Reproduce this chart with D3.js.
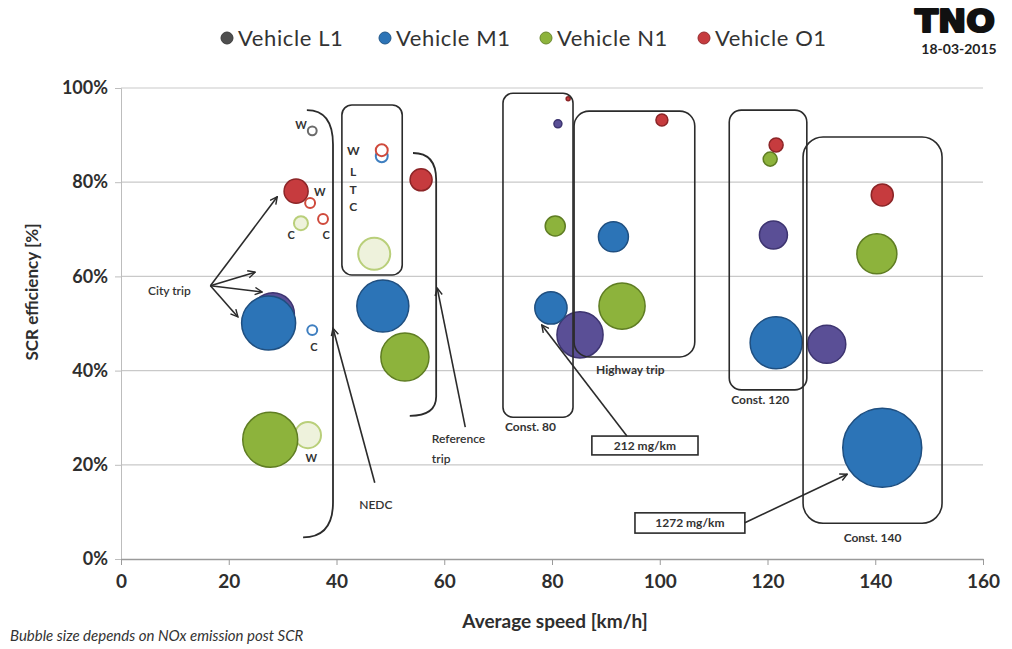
<!DOCTYPE html>
<html>
<head>
<meta charset="utf-8">
<script src="https://cdn.jsdelivr.net/npm/d3@7"></script>
<style>
  html, body { margin: 0; padding: 0; background: #ffffff; }
  svg { display: block; font-family: Lato, "Open Sans", sans-serif; }
</style>
</head>
<body>
<svg id="chart" width="1012" height="649"></svg>
<script>
// ---------------- DATA ----------------
const vehicles = ["Vehicle L1", "Vehicle M1", "Vehicle N1", "Vehicle O1"];

// trip / test type of every point ("Lab ..." and "WLTC" = open marker, others = PEMS trips)
const tripL1 = ["City", "Lab W", "Const 80", "Highway", "Const 120", "Const 140"];
const speedL1 = [28.2, 35.5, 81.1, 85.2, 121.1, 131.0];
const effL1 = [52.0, 90.9, 92.4, 47.6, 68.8, 45.6];
const noxL1 = [375, 16, 13, 434, 160, 295];

const tripM1 = ["City", "Lab C", "WLTC", "NEDC", "Const 80", "Highway", "Const 120", "Const 140"];
const speedM1 = [27.4, 35.5, 48.4, 48.6, 79.8, 91.4, 121.6, 141.3];
const effM1 = [50.1, 48.6, 85.5, 53.7, 53.3, 68.4, 45.9, 23.6];
const noxM1 = [594, 20, 29, 551, 212, 183, 551, 1272];

const tripN1 = ["City", "Lab W", "Lab C", "WLTC", "NEDC", "Const 80", "Highway", "Const 120", "Const 140"];
const speedN1 = [27.7, 34.7, 33.4, 47.0, 52.7, 80.6, 93.0, 120.5, 140.3];
const effN1 = [25.3, 26.3, 71.3, 64.8, 42.9, 70.7, 53.7, 84.9, 64.8];
const noxN1 = [616, 139, 40, 209, 472, 82, 434, 40, 326];

const tripO1 = ["City", "Lab W", "Lab C", "WLTC", "Reference", "Const 80", "Highway", "Const 120", "Const 140"];
const speedO1 = [32.5, 35.1, 37.5, 48.4, 55.7, 83.0, 100.4, 121.6, 141.3];
const effO1 = [78.1, 75.6, 72.2, 86.8, 80.5, 97.7, 93.2, 87.9, 77.3];
const noxO1 = [118, 20, 20, 29, 99, 3, 29, 40, 99];

const labTrips = ["Lab W", "Lab C", "WLTC"];

const xTicks = [0, 20, 40, 60, 80, 100, 120, 140, 160];
const yTicks = [0, 20, 40, 60, 80, 100];

// annotation boxes (data units: speed, efficiency %)
const boxNames = ["WLTC", "Const. 80", "Highway trip", "Const. 120", "Const. 140"];
const boxX0 = [41.0, 70.9, 84.1, 112.9, 126.6];
const boxX1 = [52.2, 83.9, 106.5, 127.3, 152.4];
const boxY0 = [60.3, 30.1, 42.9, 35.9, 7.6];
const boxY1 = [96.4, 98.9, 95.1, 95.3, 89.6];

// ---------------- SETUP ----------------
const svg = d3.select("#chart");
const x = d3.scaleLinear().domain([0, 160]).range([121, 983]);
const y = d3.scaleLinear().domain([0, 100]).range([559, 88]);
const r = d3.scaleSqrt().domain([0, 1272]).range([0, 39.5]);

const fillC = {"Vehicle L1": "#5a4f96", "Vehicle M1": "#2c74b7", "Vehicle N1": "#8db33c", "Vehicle O1": "#c63b3e"};
const strokeC = {"Vehicle L1": "#3d3470", "Vehicle M1": "#1f4f80", "Vehicle N1": "#5f7d23", "Vehicle O1": "#8c2527"};
const legendC = {"Vehicle L1": "#4f4f4f", "Vehicle M1": "#2c74b7", "Vehicle N1": "#8db33c", "Vehicle O1": "#c63b3e"};
const labFill = {"Vehicle L1": "#ffffff", "Vehicle M1": "#ffffff", "Vehicle N1": "#eef2dc", "Vehicle O1": "#ffffff"};
const labStroke = {"Vehicle L1": "#6b6b6b", "Vehicle M1": "#3f7fc0", "Vehicle N1": "#b9cf7a", "Vehicle O1": "#cf4a3c"};

const series = [
  {name: vehicles[0], trip: tripL1, s: speedL1, e: effL1, n: noxL1},
  {name: vehicles[1], trip: tripM1, s: speedM1, e: effM1, n: noxM1},
  {name: vehicles[2], trip: tripN1, s: speedN1, e: effN1, n: noxN1},
  {name: vehicles[3], trip: tripO1, s: speedO1, e: effO1, n: noxO1}
];
const points = [];
series.forEach(se => se.s.forEach((v, i) => points.push({
  v: se.name, trip: se.trip[i], speed: v, eff: se.e[i], nox: se.n[i],
  lab: labTrips.includes(se.trip[i])
})));

// ---------------- GRID & AXES ----------------
const g = svg.append("g");
g.selectAll("line.grid").data(yTicks.filter(t => t > 0)).join("line")
  .attr("x1", x(0)).attr("x2", x(160))
  .attr("y1", d => y(d)).attr("y2", d => y(d))
  .attr("stroke", "#c9c9c9").attr("stroke-width", 1.2);

const yAxis = g.append("g").attr("transform", `translate(${x(0)},0)`)
  .call(d3.axisLeft(y).tickValues(yTicks).tickSize(6).tickFormat(d => d + "%"));
yAxis.select(".domain").attr("stroke", "#bdbdbd");
yAxis.selectAll(".tick line").attr("stroke", "#bdbdbd");
yAxis.selectAll("text").attr("font-family", "Lato").attr("font-weight", 700)
  .attr("font-size", 18).attr("fill", "#2e2e2e").attr("x", -13);

const xAxis = g.append("g").attr("transform", `translate(0,${y(0)})`)
  .call(d3.axisBottom(x).tickValues(xTicks).tickSize(6).tickSizeOuter(0));
xAxis.select(".domain").attr("stroke", "#9a9a9a").attr("stroke-width", 1.5);
xAxis.selectAll(".tick line").attr("stroke", "#9a9a9a");
xAxis.selectAll("text").attr("font-family", "Lato").attr("font-weight", 700)
  .attr("font-size", 19).attr("fill", "#2e2e2e").attr("dy", "1.05em");

svg.append("text").attr("x", 555).attr("y", 628).attr("text-anchor", "middle")
  .attr("font-weight", 700).attr("font-size", 19).attr("fill", "#2e2e2e")
  .text("Average speed [km/h]");
svg.append("text").attr("transform", "translate(38,292) rotate(-90)")
  .attr("text-anchor", "middle").attr("font-weight", 700).attr("font-size", 17)
  .attr("fill", "#2e2e2e").text("SCR efficiency [%]");
svg.append("text").attr("x", 10).attr("y", 641).attr("font-style", "italic")
  .attr("font-size", 15).attr("fill", "#333")
  .text("Bubble size depends on NOx emission post SCR");

// ---------------- BUBBLES ----------------
const labPts = points.filter(p => p.lab);
const pemsPts = points.filter(p => !p.lab);
svg.append("g").selectAll("circle").data(labPts).join("circle")
  .attr("cx", d => x(d.speed)).attr("cy", d => y(d.eff)).attr("r", d => Math.max(r(d.nox), 4))
  .attr("fill", d => labFill[d.v]).attr("stroke", d => labStroke[d.v]).attr("stroke-width", 2);
svg.append("g").selectAll("circle").data(pemsPts).join("circle")
  .attr("cx", d => x(d.speed)).attr("cy", d => y(d.eff)).attr("r", d => Math.max(r(d.nox), 2))
  .attr("fill", d => fillC[d.v]).attr("stroke", d => strokeC[d.v]).attr("stroke-width", 1.5);

// ---------------- ANNOTATIONS ----------------
const ink = "#2b2b2b";
const boxes = boxNames.map((n, i) => ({n, x0: boxX0[i], x1: boxX1[i], y0: boxY0[i], y1: boxY1[i]}));
svg.append("g").selectAll("rect").data(boxes).join("rect")
  .attr("x", d => x(d.x0)).attr("y", d => y(d.y1))
  .attr("width", d => x(d.x1) - x(d.x0)).attr("height", d => y(d.y0) - y(d.y1))
  .attr("rx", (d, i) => [10, 10, 15, 12, 20][i])
  .attr("fill", "none").attr("stroke", ink).attr("stroke-width", 1.6);

// labels
const lab = (tx, px, py, anchor, size, weight) => svg.append("text")
  .attr("x", px).attr("y", py).attr("text-anchor", anchor || "start")
  .attr("font-size", size || 12).attr("font-weight", weight || 700).attr("fill", "#333").text(tx);
lab("Const. 80", x(boxX0[1]) + 2, y(boxY0[1]) + 14);
lab("Highway trip", x(boxX0[2]) + 22, y(boxY0[2]) + 17);
lab("Const. 120", x(boxX0[3]) + 2, y(boxY0[3]) + 14);
lab("Const. 140", (x(boxX0[4]) + x(boxX1[4])) / 2, y(boxY0[4]) + 19, "middle");

// WLTC vertical letters
["W", "L", "T", "C"].forEach((c, i) => lab(c, x(43.1), y([85.8, 81.4, 77.6, 73.9][i]), "middle", 12));

// W / C markers for lab tests
const wcText = ["W", "W", "C", "C", "C", "W"];
const wcX = [33.4, 36.9, 31.6, 38.1, 35.8, 35.3];
const wcY = [91.3, 77.0, 68.0, 68.0, 44.2, 20.6];
wcText.forEach((t, i) => lab(t, x(wcX[i]), y(wcY[i]), "middle", 11));

// arrow marker
const defs = svg.append("defs");
defs.append("marker").attr("id", "arr").attr("viewBox", "0 0 10 10")
  .attr("refX", 9).attr("refY", 5).attr("markerWidth", 9).attr("markerHeight", 9)
  .attr("orient", "auto-start-reverse").attr("markerUnits", "userSpaceOnUse")
  .append("path").attr("d", "M1,1 L9,5 L1,9").attr("fill", "none")
  .attr("stroke", ink).attr("stroke-width", 1.6);

const arrow = (a, b) => svg.append("line")
  .attr("x1", x(a[0])).attr("y1", y(a[1])).attr("x2", x(b[0])).attr("y2", y(b[1]))
  .attr("stroke", ink).attr("stroke-width", 1.6).attr("marker-end", "url(#arr)");

// City trip
lab("City trip", x(5.0), y(56.0), "start", 12, 600);
[[29.0, 76.9], [24.9, 60.9], [26.2, 56.7], [21.7, 51.4]].forEach(t => arrow([16.6, 58.0], t));

// NEDC bracket + arrow
const br = (top, xv, yTop, yBot, bot) => svg.append("path")
  .attr("d", `M${x(top[0])},${y(top[1])} Q${x(xv)},${y(top[1])} ${x(xv)},${y(yTop)} L${x(xv)},${y(yBot)} Q${x(xv)},${y(bot[1])} ${x(bot[0])},${y(bot[1])}`)
  .attr("fill", "none").attr("stroke", ink).attr("stroke-width", 1.8);
br([34.5, 95.3], 39.35, 88, 12, [33.8, 4.6]);
lab("NEDC", x(47.3), y(10.6), "middle", 12, 600);
arrow([47.1, 16.2], [39.35, 49.0]);

// Reference trip bracket + arrow
br([54.2, 86.2], 58.5, 80.5, 34.5, [53.6, 30.4]);
lab("Reference", x(57.7), y(24.6), "start", 12, 600);
lab("trip", x(57.7), y(20.4), "start", 12, 600);
arrow([63.9, 28.0], [58.7, 57.5]);

// value call-outs
const callX0 = [87.4, 95.4], callX1 = [107.1, 115.8], callY0 = [22.1, 5.5], callY1 = [26.1, 9.8];
const callText = ["212 mg/km", "1272 mg/km"];
callText.forEach((t, i) => {
  svg.append("rect").attr("x", x(callX0[i])).attr("y", y(callY1[i]))
    .attr("width", x(callX1[i]) - x(callX0[i])).attr("height", y(callY0[i]) - y(callY1[i]))
    .attr("fill", "#fff").attr("stroke", ink).attr("stroke-width", 1.6);
  lab(t, (x(callX0[i]) + x(callX1[i])) / 2, (y(callY0[i]) + y(callY1[i])) / 2 + 4.5, "middle", 12, 700);
});
arrow([93.9, 26.1], [78.1, 49.7]);
arrow([115.8, 7.7], [134.8, 18.0]);

// ---------------- LEGEND ----------------
const legX = [227, 385, 546, 704];
const leg = svg.append("g");
vehicles.forEach((v, i) => {
  leg.append("circle").attr("cx", legX[i]).attr("cy", 38).attr("r", 6)
    .attr("fill", legendC[v]).attr("stroke", d3.color(legendC[v]).darker(0.8)).attr("stroke-width", 1);
  leg.append("text").attr("x", legX[i] + 11).attr("y", 46).attr("font-size", 22)
    .attr("letter-spacing", 0.6).attr("fill", "#333").text(v);
});

// ---------------- TNO LOGO ----------------
svg.append("text").attr("x", 915).attr("y", 32)
  .attr("font-family", "'DejaVu Sans'").attr("font-weight", 900).attr("font-size", 32)
  .attr("textLength", 80).attr("lengthAdjust", "spacingAndGlyphs")
  .attr("fill", "#111").attr("stroke", "#111").attr("stroke-width", 2.2)
  .attr("stroke-linejoin", "round").text("TNO");
svg.append("text").attr("x", 959).attr("y", 54).attr("text-anchor", "middle")
  .attr("font-weight", 700).attr("font-size", 14).attr("fill", "#222").text("18-03-2015");
</script>
</body>
</html>
